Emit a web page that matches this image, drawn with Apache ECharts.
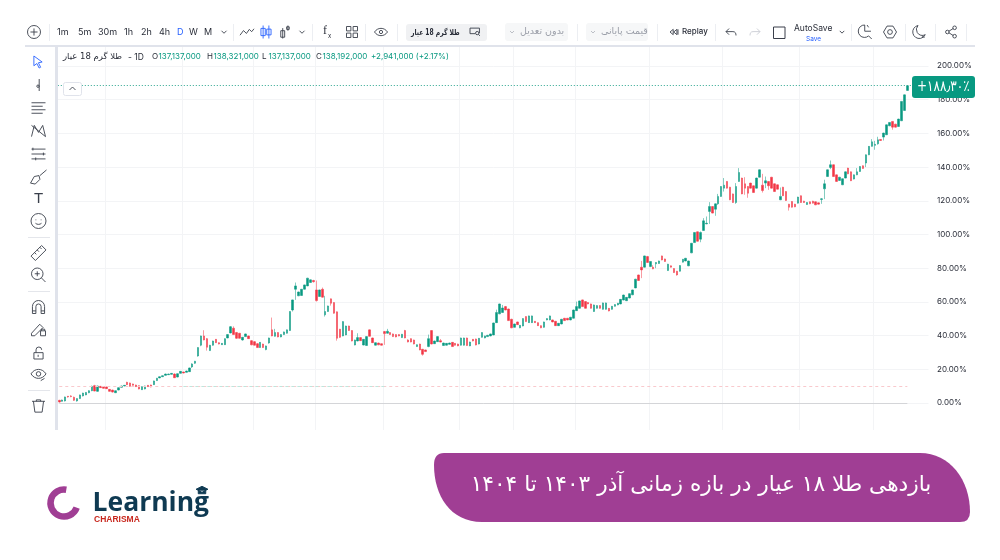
<!DOCTYPE html>
<html>
<head>
<meta charset="utf-8">
<style>
  html,body{margin:0;padding:0;background:#fff;}
  #main{width:1000px;height:560px;}
</style>
<script src="https://cdn.jsdelivr.net/npm/echarts@6/dist/echarts.min.js"></script>
</head>
<body>
<div id="main"></div>
<script>
// values, in percent return
var opens = [1.6,1.0,1.2,4.0,4.2,3.4,1.2,2.6,4.2,4.8,6.1,7.3,10.3,6.9,9.9,9.7,9.5,8.1,7.7,6.1,
7.7,9.3,10.1,12.3,11.9,11.3,10.7,10.3,7.9,8.3,10.5,10.7,10.9,13.3,14.9,15.6,16.4,16.8,17.0,17.2,
15.4,17.6,18.4,18.2,18.6,21.4,23.6,27.9,34.3,39.8,38.2,31.1,34.3,37.8,35.8,34.6,34.6,38.6,41.6,44.4,
41.8,41.4,37.4,39.4,39.8,37.0,36.4,35.2,32.9,35.0,31.7,35.6,43.4,39.6,41.8,39.2,40.6,41.4,43.0,55.2,
67.5,63.6,63.8,67.5,69.5,71.5,72.7,67.1,63.2,67.5,52.3,54.3,61.8,59.6,54.1,43.8,39.8,40.4,45.7,43.0,
34.4,36.8,38.8,34.4,34.1,43.4,38.6,34.3,35.6,35.2,42.4,41.4,41.8,41.0,40.6,40.6,38.8,43.0,37.4,38.2,
37.4,33.5,35.0,31.9,31.5,33.5,43.0,35.2,36.4,37.0,34.1,34.3,34.8,36.0,35.4,35.0,34.3,34.3,38.6,33.9,
37.8,38.0,35.0,39.0,38.6,39.4,39.8,40.4,47.7,52.9,53.7,57.2,55.8,49.7,44.9,48.1,44.6,45.7,51.3,47.7,
47.7,48.5,47.7,45.9,44.9,49.3,49.3,49.3,48.5,45.9,46.9,50.3,50.3,49.3,50.3,54.8,56.2,61.2,60.2,59.6,
58.8,54.3,56.2,57.8,55.6,55.6,56.2,55.6,57.4,58.2,58.8,61.1,60.7,62.3,64.2,68.3,76.0,80.6,80.6,86.9,
81.0,80.6,82.6,82.8,87.3,85.5,78.6,81.4,79.8,78.2,78.2,83.6,84.3,81.4,89.1,95.2,101.6,97.2,102.4,106.3,
113.7,116.6,115.0,118.2,122.6,127.5,131.5,128.1,124.1,119.0,131.5,133.5,130.1,128.5,130.5,128.9,127.5,134.0,129.3,130.5,
131.5,134.0,130.1,129.5,120.6,128.1,125.5,118.0,119.6,118.0,118.6,123.0,119.8,117.8,119.4,119.8,119.4,118.8,120.8,127.1,
134.4,139.8,141.4,135.4,132.1,129.5,133.5,139.4,137.2,132.9,135.4,137.4,140.8,142.4,147.3,152.3,152.9,153.8,156.4,157.8,
159.2,164.5,167.1,165.5,164.1,167.5,173.6,185.5];
var closes = [0.6,1.8,3.6,3.6,3.8,1.6,2.6,4.8,5.9,6.3,7.3,9.9,7.1,10.1,9.1,8.7,8.5,6.9,6.5,7.3,
9.1,10.1,10.5,10.9,9.9,10.5,9.7,8.3,9.7,10.1,9.7,9.5,13.1,14.7,15.6,16.2,17.2,17.2,17.6,15.0,
17.4,18.8,17.8,19.0,20.8,23.2,24.8,32.9,39.8,37.4,33.1,34.3,36.8,35.8,35.0,35.4,38.2,40.6,45.3,40.6,
38.4,38.4,39.0,41.0,38.2,34.5,34.3,32.9,36.0,32.9,33.9,38.6,39.8,41.8,39.2,40.6,42.2,43.4,54.3,61.2,
69.5,65.9,67.5,70.1,74.1,73.1,72.0,60.8,67.1,62.8,54.3,57.6,59.2,53.3,38.4,39.0,48.3,45.7,43.0,36.8,
37.4,38.8,37.0,37.8,39.4,39.6,35.8,35.8,34.5,34.3,41.2,42.6,40.6,39.4,39.2,39.8,40.8,38.6,36.2,36.2,
35.0,34.6,31.5,28.9,30.5,38.2,35.0,36.8,39.4,36.2,35.6,35.4,35.6,33.5,34.3,33.9,38.6,38.6,34.1,36.2,
36.8,34.4,38.4,41.8,39.8,40.2,41.0,47.5,53.7,58.8,56.4,55.2,48.9,44.6,46.9,46.5,46.1,50.1,48.3,51.7,
51.7,47.7,45.9,44.6,48.1,50.1,51.7,48.1,45.9,47.3,49.7,48.9,49.3,50.9,55.2,57.2,60.6,57.2,56.2,58.8,
56.2,58.2,57.8,56.2,59.4,59.4,54.6,57.4,58.4,59.2,61.5,64.1,62.7,64.9,67.1,73.5,72.7,79.0,87.3,83.4,
84.0,79.6,83.4,84.3,84.9,84.0,82.4,80.6,77.4,76.0,81.6,85.3,85.9,84.3,94.8,101.2,96.0,101.2,108.1,106.7,
116.6,112.7,118.2,122.6,128.5,129.3,127.5,120.6,119.0,128.5,136.8,124.1,127.5,124.5,127.5,124.9,133.5,138.4,126.1,131.9,
128.9,127.5,125.5,126.9,122.6,123.0,120.2,116.2,116.2,116.4,122.2,119.0,119.0,119.0,118.2,118.6,117.6,118.0,121.2,130.1,
138.4,141.4,134.4,131.5,134.0,133.1,137.2,136.0,131.9,135.4,137.2,140.4,139.2,147.3,152.3,155.0,153.5,156.2,155.8,160.2,
165.1,166.5,163.7,163.7,168.5,179.0,182.9,188.3];
var lows = [0.2,0.8,0.9,3.2,3.4,1.2,0.8,2.4,3.9,4.6,5.8,7.0,6.9,6.6,8.9,8.5,8.3,6.7,6.2,5.9,
7.5,9.1,9.9,10.6,9.7,10.3,9.5,8.1,7.7,8.1,9.5,9.3,10.7,13.1,14.7,15.4,16.2,16.6,16.8,14.8,
15.2,17.4,17.6,18.0,18.4,20.8,23.2,27.5,33.7,37.2,31.1,30.9,34.0,35.6,34.8,34.4,34.4,38.4,41.3,40.4,
38.0,38.2,37.0,39.2,38.0,34.3,34.1,32.7,32.7,32.7,31.3,35.2,39.6,39.4,39.0,39.0,40.4,41.2,42.8,54.3,
61.2,63.4,63.6,67.3,69.3,71.3,71.5,60.2,63.0,62.6,51.3,54.1,57.8,53.0,37.0,38.6,39.6,40.2,42.8,36.6,
34.2,36.6,36.8,34.2,33.9,39.4,35.6,34.1,34.3,34.1,34.5,41.2,40.4,39.2,39.0,39.6,38.6,38.4,36.0,36.0,
34.8,33.3,31.3,28.1,30.3,33.1,34.8,35.0,36.2,36.0,33.9,34.1,34.6,33.3,34.1,33.7,34.1,34.1,33.9,33.7,
36.6,34.2,34.8,38.8,38.4,39.2,39.6,40.2,47.5,52.7,53.5,55.0,48.7,44.4,44.7,46.3,44.4,45.5,48.1,47.5,
47.5,47.5,45.7,44.4,44.7,49.1,49.1,47.9,45.7,45.7,46.7,48.7,49.1,49.1,50.1,54.6,56.0,57.0,56.0,58.6,
56.0,54.1,56.0,56.0,55.4,55.4,54.4,55.4,57.2,58.0,58.6,60.9,60.5,62.1,64.0,68.1,72.5,74.1,80.4,83.2,
80.6,79.4,80.0,82.6,84.7,83.8,78.4,80.4,77.2,75.6,78.0,83.4,84.1,81.2,88.9,95.0,95.8,95.4,102.2,106.1,
106.3,112.5,111.1,117.6,122.4,125.5,127.3,120.4,118.8,118.2,131.3,123.9,123.6,121.8,127.3,124.7,127.3,133.8,124.9,127.5,
126.5,127.3,125.3,126.7,120.4,122.8,120.0,114.2,116.0,116.2,118.4,118.8,118.8,117.6,118.0,118.4,117.4,117.8,118.2,121.0,
134.2,138.8,134.2,131.3,131.9,129.3,133.3,135.8,131.7,132.7,135.2,137.2,139.0,140.0,147.1,152.1,150.3,153.3,155.6,155.8,
159.0,164.3,162.2,163.5,163.9,167.3,173.4,185.3];
var highs = [1.9,2.0,3.8,4.2,4.6,3.8,2.8,5.0,6.1,6.5,7.6,10.3,10.8,10.3,10.1,9.9,9.7,8.3,7.9,7.5,
9.3,10.3,10.7,12.6,12.1,11.5,10.9,10.5,9.9,10.3,10.7,10.9,13.3,14.9,15.8,16.4,17.4,17.4,17.8,17.6,
17.6,19.0,18.6,19.2,21.0,23.6,25.0,33.1,40.0,43.2,38.6,34.5,37.0,38.0,36.0,35.6,38.4,40.8,45.7,45.5,
42.2,41.6,39.2,41.2,40.0,37.4,36.8,35.6,36.2,35.2,34.1,38.8,50.7,44.0,42.0,40.8,42.4,43.6,54.5,61.4,
71.5,66.1,67.7,70.3,74.3,73.3,73.1,72.7,67.3,68.5,63.6,57.8,62.0,59.8,54.3,44.0,48.5,45.9,45.9,43.2,
37.6,41.4,39.0,38.0,39.6,43.6,38.8,36.0,35.8,35.4,42.8,44.0,42.0,41.2,40.8,40.8,41.0,43.4,37.8,38.4,
37.6,34.8,35.2,32.1,31.7,40.6,43.2,37.0,39.6,38.0,35.8,35.6,35.8,36.2,35.6,35.2,38.8,38.8,38.8,36.4,
38.0,38.2,38.6,42.0,40.0,40.4,41.2,47.7,55.4,59.0,58.2,57.6,56.0,50.0,47.1,48.3,46.3,50.3,51.5,51.9,
51.9,48.7,47.9,46.1,48.3,50.3,51.9,49.5,48.7,47.5,49.9,50.5,50.5,51.1,55.4,60.2,60.8,61.4,60.4,59.8,
59.0,58.4,58.0,58.0,59.6,59.6,56.4,57.6,58.6,59.4,61.7,64.3,62.9,65.1,67.3,73.7,76.2,84.3,87.5,87.3,
84.2,81.8,83.6,84.5,87.5,85.7,82.6,81.6,80.0,78.4,81.8,85.5,86.1,84.5,95.0,101.4,101.8,101.8,109.7,110.7,
119.2,116.8,118.4,124.1,128.7,133.5,131.7,128.3,124.3,130.5,139.4,133.7,134.0,128.7,130.7,129.1,133.7,138.6,136.0,134.4,
131.7,134.2,130.3,129.7,127.9,128.3,125.7,118.2,119.8,118.2,122.4,123.2,120.0,119.2,119.6,120.0,119.6,119.0,121.6,132.5,
138.6,143.9,141.6,135.6,134.2,133.3,137.4,139.6,137.4,135.6,139.4,140.6,141.0,147.5,152.5,156.6,155.6,158.0,156.6,160.4,
165.3,166.7,167.3,165.7,168.7,179.2,183.1,188.5];
var lastReturn = 188.3;
var baseReturn = 10.1;
var tickValues = [0,20,40,60,80,100,120,140,160,180,200];
var gridBars = [16,42,66,87,110,136,154,175,200,225,251,276];
var barCount = 295;
var categories = [];
for (var i = 0; i < barCount; i++) { categories.push(i + 1); }

var green = '#089981', red = '#f23645', ink = '#2a2e39', soft = '#9a9ea8', blue = '#2962ff', lineCol = '#e0e3eb';
var latin = 'Inter, "DejaVu Sans", sans-serif';
var persian = '"DejaVu Sans", sans-serif';
var els = [];
var icons = [];

function txt(s, x, y, size, color, opt) {
	opt = opt || {};
	els.push({type:'text', z:300, x:x, y:y, scaleX:opt.scaleX||1, style:{text:s, fill:color, font:(opt.weight||'normal')+' '+size+'px '+(opt.family||latin), textAlign:opt.align||'left', textVerticalAlign:'middle'}, silent:true});
}
function box(x, y, w, h, fill, r, stroke) {
	els.push({type:'rect', z:100, shape:{x:x, y:y, width:w, height:h, r:r||0}, style:{fill:fill, stroke:stroke||null, lineWidth:stroke?1:0}, silent:true});
}
function icon(d, cx, cy, size, color, fill) {
	icons.push({d:d, x:cx-size/2, y:cy-size/2, w:size, h:size, layout:'center', stroke:color||'#3a3f4b', fill:fill||'none'});
}
function sep(x) { box(x, 24, 1, 17, '#eceef2'); }
function hsep(y) { box(28, y, 22, 1, '#e4e6eb'); }

// masks over the axis ends
box(0, 0, 1000, 46, '#fff');
box(0, 430, 1000, 130, '#fff');
box(928.5, 47, 3, 383, '#fff');
box(25, 45, 950, 2, lineCol);
box(55, 47, 3, 383, lineCol);

// top toolbar
icon('M12 1a11 11 0 1 0 .01 0M12 6v12M6 12h12', 34, 32, 13);
sep(49);
var frames = [['1m',57],['5m',78],['30m',98],['1h',124],['2h',141],['4h',159],['D',177],['W',189],['M',204]];
frames.forEach(function(f){ txt(f[0], f[1], 32, 9, f[0]==='D' ? blue : ink); });
icon('M1 1l4 4 4-4', 224, 32, 5);
sep(233);
icon('M1 14L7 6l5 5 5-7 4 4 4-5', 247, 32, 14);
icon('M3 1v18M0 5h6v10H0zM11 1v18M8 6h6v8H8z', 266, 32, 13, blue);
icon('M3 4v16M0 8h6v10H0zM11 0v8M9 2h4v4H9z', 285, 32, 13);
icon('M1 1l4 4 4-4', 302, 32, 5);
sep(312);
txt('f', 323, 31, 12, ink, {family:'"Liberation Serif", serif'});
txt('x', 328, 36, 6, ink);
icon('M1 1h8v8H1zM13 1h8v8h-8zM1 13h8v8H1zM13 13h8v8h-8z', 352, 32, 11);
sep(365);
icon('M1 8c6-9 18-9 24 0c-6 9-18 9-24 0zM13 5a3 3 0 1 0 .01 0', 381, 32, 13);
sep(397);
box(406, 24, 81, 17, '#f0f1f3', 3);
txt('طلا گرم 18 عیار', 411, 32.5, 8, ink, {family:persian, weight:'bold', scaleX:0.75});
icon('M18 11V2H1v10h9M14 8a3 3 0 1 0 .01 0M16 13l3 3', 475, 32, 10);
box(505, 23, 63, 18, '#f6f7f8', 3);
icon('M1 1l3 3 3-3', 512, 32, 4, '#b5b8bf');
txt('بدون تعدیل', 520, 32, 9.5, soft, {family:persian});
sep(577);
box(586, 23, 62, 18, '#f6f7f8', 3);
icon('M1 1l3 3 3-3', 593, 32, 4, '#b5b8bf');
txt('قیمت پایانی', 601, 32, 9.5, soft, {family:persian});
sep(657);
icon('M7 1L1 6l6 5zM14 1L8 6l6 5zM16 1v10', 674, 32, 8);
txt('Replay', 682, 32, 8, ink, {weight:'500'});
sep(715);
icon('M5 1L1 5l4 4M1 5h9c3 0 4 2 4 5', 731, 32, 10);
icon('M10 1l4 4-4 4M14 5H5c-3 0-4 2-4 5', 755, 32, 10, '#c8cbd2');
box(773.5, 27, 11.5, 11.5, '#fff', 0, '#3a3f4b');
txt('AutoSave', 794, 28, 8.5, ink);
txt('Save', 806, 39, 6.5, blue);
icon('M1 1l3 3 3-3', 842, 32, 4.5);
sep(851);
icon('M9 1a8 8 0 1 0 5 14l4 4M9 1v8h8M12 1l2 3', 865, 32, 14);
icon('M6 1h10l6 10-6 10H6L0 11zM11 7a4 4 0 1 0 .01 0', 890, 32, 13);
sep(905);
icon('M9 1a10 10 0 1 0 11 14A9 9 0 0 1 9 1zM15 18l4 1', 919, 32, 13);
sep(935);
icon('M16 1a3 3 0 1 0 .01 0M4 8a3 3 0 1 0 .01 0M16 15a3 3 0 1 0 .01 0M6 10l8-5M6 12l8 5', 951, 32, 12);
sep(966);

// left toolbar
icon('M2 1l11 8-5 1 3 6-2 1-3-6-4 3z', 38, 62, 12, blue);
icon('M6 0v20M4 10a2 2 0 1 0 .01 0', 38, 85, 12);
icon('M0 2h20M0 7h16M0 12h20M0 17h16', 38.5, 108, 14);
icon('M2 18L6 2l6 10 6-10 4 16M2 2l20 16', 38.5, 131, 14);
icon('M0 2h20M0 9h20M0 16h20M2 0v4M17 7v4M6 14v4', 38.5, 154, 14);
icon('M1 16l4-7 5-1 1 4-5 5zM11 8l7-6', 38.5, 177, 16);
txt('T', 38.5, 199, 15, '#3a3f4b', {align:'center', family:'"Liberation Sans", sans-serif'});
icon('M10 0a10 10 0 1 0 .01 0M6.5 8v1M13.5 8v1M6 13c2 2 6 2 8 0', 38.5, 221, 15);
hsep(237);
icon('M1 13L13 1l5 5L6 18zM5 9l2 2M8 6l2 2M11 3l2 2', 38.5, 253, 15);
icon('M8 1a7 7 0 1 0 .01 0M8 5v6M5 8h6M13 13l5 5', 38.5, 275, 14);
hsep(291);
icon('M1 16V8a7 7 0 0 1 14 0v8h-4V8a3 3 0 0 0-6 0v8zM1 13h4M11 13h4', 38.5, 307, 13);
icon('M1 15L11 4l4 4L5 18H1zM12 12h6v6h-6zM13 12v-2h4v2', 38.5, 330, 14);
icon('M2 9h13v9H2zM5 9V5a4 4 0 0 1 8 0M8 12v3', 38.5, 353, 12);
icon('M1 7c5-8 15-8 20 0c-5 8-15 8-20 0zM11 4a3 3 0 1 0 .01 0M14 16l5-3', 38.5, 375, 15);
hsep(390);
icon('M0 3h18M6 3V1h6v2M2 3l2 15h10l2-15', 38.5, 406, 13);

// series legend
txt('طلا گرم 18 عیار', 63, 57, 8.5, ink, {family:persian});
txt('- 1D', 128, 57, 8.5, ink);
[['O','137,137,000',152],['H','138,321,000',207],['L','137,137,000',262],['C','138,192,000',316]].forEach(function(p){
	txt(p[0], p[2], 57, 8, ink);
	txt(p[1], p[2]+6.5, 57, 8, green);
});
txt('+2,941,000 (+2.17%)', 371, 57, 8, green);
// collapse button
box(63.5, 82.5, 18, 13, '#fff', 2, lineCol);
icon('M1 5l4-4 4 4', 72.5, 88.5, 6);

// last value tag
box(912, 76, 63, 22, green, 3);
txt('+۱۸۸٫۳۰٪', 917, 87, 15, '#fff', {family:persian, scaleX:0.8});

// banner
icons.push({d:'M444 453L920 453C950 453 970 480 970 512Q970 522 960 522L482 522C450 522 434 495 434 465Q434 453 444 453Z', x:434, y:453, w:536, h:69, layout:'cover', stroke:'none', fill:'#a03e94'});
txt('بازدهی طلا ۱۸ عیار در بازه زمانی آذر ۱۴۰۳ تا ۱۴۰۴', 701, 485, 21.7, '#fff', {align:'center', family:persian});

// logo
els.push({type:'arc', z:100, shape:{cx:64, cy:503, r:13.5, startAngle:0.35, endAngle:-1.4, clockwise:true},
	style:{fill:'none', stroke:'#a03e94', lineWidth:6.5, lineCap:'butt'}, silent:true});
txt('Learning', 92.5, 503, 26.5, '#0f3a52', {weight:'bold', family:'"Open Sans", sans-serif'});
txt('CHARISMA', 94, 520, 8.5, '#c8281e', {weight:'bold', family:'"Liberation Sans Narrow", "Liberation Sans", sans-serif'});
icon('M0 5l8-4 8 4-8 4zM3 7v4h10V7', 202, 490, 12, '#0f3a52', '#0f3a52');

var chart = echarts.init(document.getElementById('main'), null, {renderer:'canvas'});
var candles = opens.map(function(o, i){ return [o, closes[i], lows[i], highs[i]]; });

chart.setOption({
	animation:false,
	backgroundColor:'#fff',
	textStyle:{fontFamily:latin},
	// -20..220 so ticks fall on the 20s; the ends sit behind the masks
	grid:{left:57.8, right:70.5, top:32.3, bottom:123.3},
	xAxis:{
		type:'category',
		data:categories,
		boundaryGap:true,
		axisLine:{show:false},
		axisTick:{show:false},
		axisLabel:{show:false},
		splitLine:{show:true, lineStyle:{color:'#f3f4f6', width:1},
			interval:function(idx){ return gridBars.indexOf(idx) >= 0; }}
	},
	yAxis:{
		type:'value',
		position:'right',
		min:-20,
		max:220,
		interval:20,
		axisLine:{show:false},
		axisTick:{show:false},
		splitLine:{lineStyle:{color:'#f3f4f6', width:1}},
		axisLabel:{
			margin:7.5,
			fontSize:8,
			color:'#2a2e39',
			padding:[3,0,0,0],
			showMinLabel:false,
			showMaxLabel:false,
			formatter:function(v){ return tickValues.indexOf(v) >= 0 ? v.toFixed(2) + '%' : ''; }
		}
	},
	series:[{
		type:'candlestick',
		data:candles,
		barWidth:2,
		itemStyle:{color:green, color0:red, borderColor:green, borderColor0:red, borderWidth:0.5},
		markLine:{
			silent:true,
			symbol:'none',
			label:{show:false},
			data:[
				{yAxis:lastReturn, lineStyle:{color:'#2aa58e', type:[1,2], width:1}},
				[{coord:[0,0], lineStyle:{color:'#d4d5d8', type:'solid', width:1}},{coord:[287,0]}],
				[{coord:[0,baseReturn], lineStyle:{color:'#f9c9cd', type:[3,3], width:1}},{coord:[287,baseReturn]}],
				[{coord:[42,baseReturn], lineStyle:{color:'#bfe6dc', type:[3,3], width:1}},{coord:[110,baseReturn]}]
			]
		}
	},{
		// toolbar glyphs and the banner shape need svg paths, graphic has no path element
		type:'custom',
		coordinateSystem:'none',
		z:200,
		silent:true,
		clip:false,
		data:icons.map(function(d, i){ return i; }),
		renderItem:function(params){
			var c = icons[params.dataIndex];
			return {type:'path', shape:{pathData:c.d, layout:c.layout, x:c.x, y:c.y, width:c.w, height:c.h},
				style:{fill:c.fill, stroke:c.stroke, lineWidth:0.9}};
		}
	}],
	graphic:{elements:els}
});
</script>
</body>
</html>
